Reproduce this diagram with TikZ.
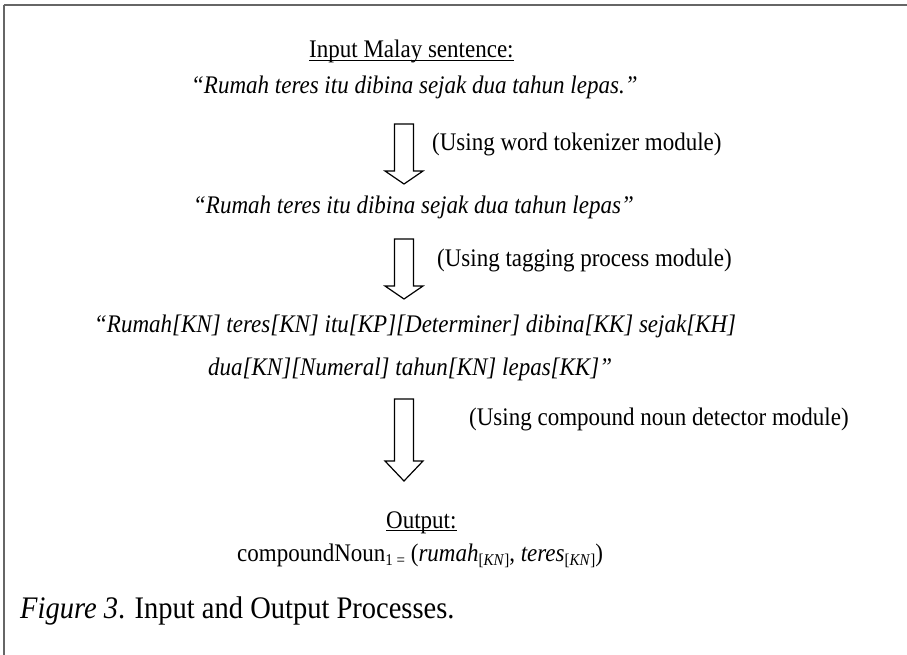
\documentclass[tikz,border=0pt]{standalone}
\usepackage{fontspec}
\setmainfont{Liberation Serif}
\newcommand\bkarrow[4]{%
  \draw[arrowbox] (#1-9.5,#2) -- (#1+9.5,#2) -- (#1+9.5,#3) -- (#1+19,#3) -- (#1,#4) -- (#1-19,#3) -- (#1-9.5,#3) -- cycle;}
\newcommand\sbx[1]{\raisebox{-4pt}{\fontsize{15}{15}\selectfont #1}}
\newcommand\tl[1]{\scalebox{1}[1.1]{#1}}
\begin{document}
\begin{tikzpicture}[x=1pt,y=-1pt,
  txt/.style={inner sep=0pt, anchor=base west, font=\fontsize{23}{27}\selectfont},
  itx/.style={txt, font=\fontsize{23}{27}\selectfont\itshape},
  captxt/.style={inner sep=0pt, anchor=base west, font=\fontsize{28.5}{32}\selectfont},
  frameline/.style={draw=black!60},
  uline/.style={line width=1.3pt},
  arrowbox/.style={draw=black, fill=white, line width=1.2pt, line join=miter}]
\useasboundingbox (0,0) rectangle (907,655);
\draw[frameline, line width=2pt] (3.5,5.5) -- (907,5.5);
\draw[frameline, line width=1.2pt] (4,5) -- (4,655);

\node[txt] (inp) at (309,58) {\tl{Input Malay sentence:}};
\draw[uline] ([yshift=-2.5pt]inp.base west) -- ([yshift=-2.5pt]inp.base east);

\node[itx] (sa) at (191,94) {\tl{“Rumah teres itu dibina sejak dua tahun lepas.”}};
\bkarrow{404}{124}{171}{184}
\node[txt] (l1) at (432,151) {\tl{(Using word tokenizer module)}};

\node[itx] (sb) at (193,214) {\tl{“Rumah teres itu dibina sejak dua tahun lepas”}};
\bkarrow{404}{239}{286}{299}
\node[txt] (l2) at (437,266) {\tl{(Using tagging process module)}};

\node[itx] (c1) at (94,332) {\tl{“Rumah[KN] teres[KN] itu[KP][Determiner] dibina[KK] sejak[KH]}};
\node[itx] (c2) at (208,375) {\tl{dua[KN][Numeral] tahun[KN] lepas[KK]”}};
\bkarrow{404}{399}{461}{481}
\node[txt] (l3) at (469,425) {\tl{(Using compound noun detector module)}};

\node[txt] (out) at (386,528) {\tl{Output:}};
\draw[uline] ([yshift=-2.5pt]out.base west) -- ([yshift=-2.5pt]out.base east);
\node[txt] (cn) at (237,561) {\tl{compoundNoun\sbx{1 =} (\textit{rumah}\sbx{[\textit{KN}]}, \textit{teres}\sbx{[\textit{KN}]})}};

\node[captxt] (fig) at (20,618) {\tl{\textit{Figure 3}. Input and Output Processes.}};
\end{tikzpicture}
\end{document}
